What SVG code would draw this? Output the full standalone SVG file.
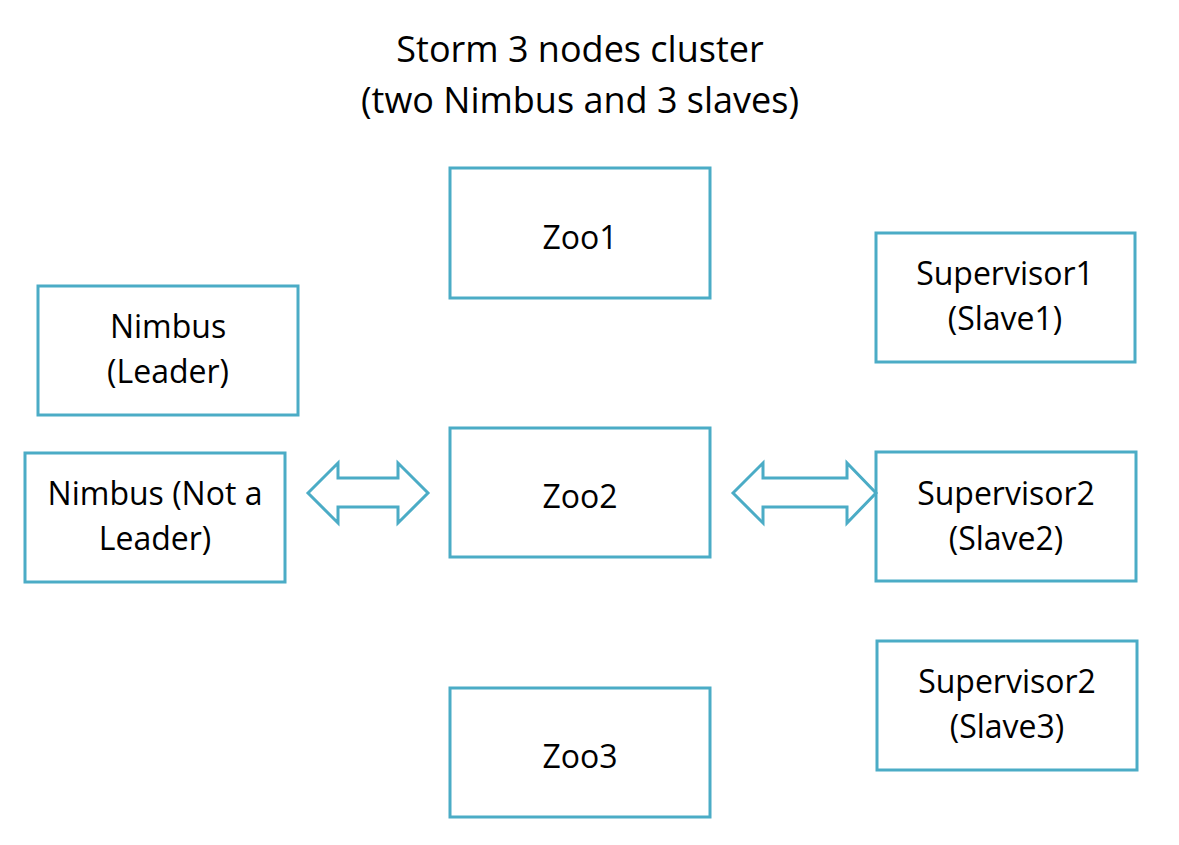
<svg xmlns="http://www.w3.org/2000/svg" width="1179" height="845" viewBox="0 0 1179 845">
<style>
.box{fill:#fff;stroke:#4BACC6;stroke-width:3}
.arr{fill:#fff;stroke:#4BACC6;stroke-width:3;stroke-linejoin:miter}
text{font-family:"Open Sans","Liberation Sans",sans-serif;fill:#000;text-anchor:middle}
.t{font-size:32px}
.h{font-size:36px}
</style>
<rect width="1179" height="845" fill="#fff"/>
<g id="title">
<text class="h" x="580" y="62">Storm 3 nodes cluster</text>
<text class="h" x="580" y="113">(two Nimbus and 3 slaves)</text>
</g>
<g id="zoo1"><rect class="box" x="450" y="168" width="260" height="130"/><text class="t" x="580" y="249">Zoo1</text></g>
<g id="zoo2"><rect class="box" x="450" y="428" width="260" height="129"/><text class="t" x="580" y="508">Zoo2</text></g>
<g id="zoo3"><rect class="box" x="450" y="688" width="260" height="129"/><text class="t" x="580" y="768">Zoo3</text></g>
<g id="nimbus-leader"><rect class="box" x="38" y="286" width="260" height="129"/><text class="t" x="168" y="338">Nimbus</text><text class="t" x="168" y="383">(Leader)</text></g>
<g id="nimbus-not-leader"><rect class="box" x="25" y="453" width="260" height="129"/><text class="t" x="155" y="505">Nimbus (Not a</text><text class="t" x="155" y="550">Leader)</text></g>
<g id="supervisor1"><rect class="box" x="876" y="233" width="259" height="129"/><text class="t" x="1005" y="285">Supervisor1</text><text class="t" x="1005" y="330">(Slave1)</text></g>
<g id="supervisor2"><rect class="box" x="876" y="452" width="260" height="129"/><text class="t" x="1006" y="505">Supervisor2</text><text class="t" x="1006" y="550">(Slave2)</text></g>
<g id="supervisor3"><rect class="box" x="877" y="641" width="260" height="129"/><text class="t" x="1007" y="693">Supervisor2</text><text class="t" x="1007" y="738">(Slave3)</text></g>
<g id="connectors">
<polygon class="arr" points="308,493 338,463 338,478 398,478 398,463 428,493 398,523 398,507 338,507 338,523"/>
<polygon class="arr" points="733,493 763,463 763,478 847,478 847,463 876,493 847,523 847,507 763,507 763,523"/>
</g>
</svg>
